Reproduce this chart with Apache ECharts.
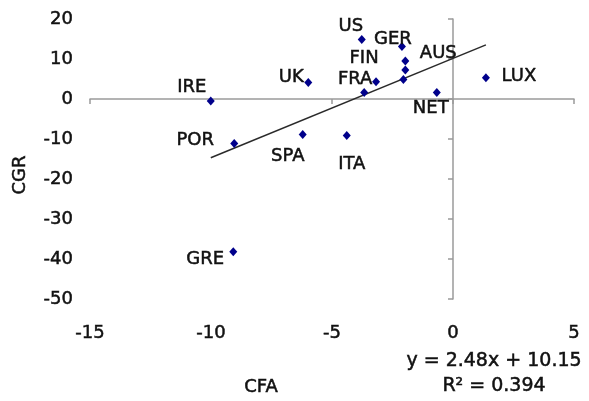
<!DOCTYPE html>
<html>
<head>
<meta charset="utf-8">
<script src="https://cdn.jsdelivr.net/npm/echarts@6/dist/echarts.min.js"></script>
<style>
html,body{margin:0;padding:0;background:#fff;}
#chart{width:589px;height:401px;}
</style>
</head>
<body>
<div id="chart"></div>
<script>
// ---- data ----
const countries = ['US','GER','AUS','','','FIN','FRA','UK','NET','LUX','SPA','ITA','IRE','POR','GRE'];
const cfa = [-3.77,-2.11,-1.97,-1.97,-2.05,-3.18,-3.67,-5.98,-0.67,1.36,-6.21,-4.39,-10.01,-9.04,-9.08];
const cgr = [14.9,13.1,9.5,7.25,4.9,4.3,1.6,4.1,1.6,5.3,-8.9,-9.1,-0.5,-11.1,-38.2];
const xTicks = [-15,-10,-5,0,5];
const yTicks = [-50,-40,-30,-20,-10,0,10,20];
const trendSlope = 2.48;
const trendIntercept = 10.15;
const rSquared = 0.394;
const xTitle = 'CFA';
const yTitle = 'CGR';

// ---- styling (label offsets relative to each point) ----
const labelOffsets = {
  US:[-11,-13], GER:[-9,-7], AUS:[33,-8], FIN:[-12,-23], FRA:[-9,-13],
  UK:[-17,-5], NET:[-6,16], LUX:[33,-1], SPA:[-15,22], ITA:[5,29],
  IRE:[-19,-14], POR:[-39,-3], GRE:[-28,8]
};
const FONT = 'DejaVu Sans';
const TXT = '#111111';
const thick = {textBorderColor:TXT, textBorderWidth:0.5};

const points = cfa.map((x,i)=>{
  const name = countries[i];
  const off = labelOffsets[name] || [0,0];
  return {
    value:[x, cgr[i]],
    label:Object.assign({show: !!name, formatter: name, position:'inside', offset: off,
           color: TXT, fontFamily: FONT, fontSize: 18, align:'center', verticalAlign:'middle', opacity:1}, thick)
  };
});
const xMinD = Math.min(...cfa), xMaxD = Math.max(...cfa);
const trend = [[xMinD, trendSlope*xMinD+trendIntercept],[xMaxD, trendSlope*xMaxD+trendIntercept]];

const chart = echarts.init(document.getElementById('chart'), null, {renderer:'canvas'});
const axisMin = {x: xTicks[0], y: yTicks[0]};
const axisMax = {x: xTicks[xTicks.length-1], y: yTicks[yTicks.length-1]};
chart.setOption({
  animation:false,
  backgroundColor:'#fff',
  grid:{left:90, right:15, top:19, bottom:102},
  xAxis:[
    {type:'value', min:axisMin.x, max:axisMax.x, interval:5, position:'bottom',
     axisLine:{show:false, onZero:false}, axisTick:{show:false}, splitLine:{show:false},
     axisLabel:Object.assign({color:TXT, fontFamily:FONT, fontSize:18, margin:25}, thick)},
    {type:'value', min:axisMin.x, max:axisMax.x, interval:5, position:'bottom',
     axisLine:{show:true, onZero:true, onZeroAxisIndex:0, lineStyle:{color:'#9a9a9a', width:1.5}},
     axisTick:{show:true, length:5, lineStyle:{color:'#9a9a9a', width:1.5}},
     axisLabel:{show:false}, splitLine:{show:false}}
  ],
  yAxis:[
    {type:'value', min:axisMin.y, max:axisMax.y, interval:10, position:'left',
     axisLine:{show:false, onZero:false}, axisTick:{show:false}, splitLine:{show:false},
     axisLabel:Object.assign({color:TXT, fontFamily:FONT, fontSize:18, margin:17}, thick)},
    {type:'value', min:axisMin.y, max:axisMax.y, interval:10, position:'left',
     axisLine:{show:true, onZero:true, onZeroAxisIndex:0, lineStyle:{color:'#9a9a9a', width:1.5}},
     axisTick:{show:true, length:5, lineStyle:{color:'#9a9a9a', width:1.5}},
     axisLabel:{show:false}, splitLine:{show:false}}
  ],
  series:[
    {type:'line', data:trend, xAxisIndex:0, yAxisIndex:0, symbol:'none',
     lineStyle:{color:'#2a2a2a', width:1.5}, silent:true, z:2},
    {type:'scatter', data:points, xAxisIndex:0, yAxisIndex:0, symbol:'diamond', symbolSize:[8,9],
     itemStyle:{color:'#00008b', opacity:1}, z:3}
  ],
  graphic:[
    {type:'text', left:262-18, top:388-10, style:{text:xTitle, fill:TXT, stroke:TXT, lineWidth:0.5, font:'18px "DejaVu Sans"'}},
    {type:'text', x:20, y:175, rotation:Math.PI/2, style:{text:yTitle, fill:TXT, stroke:TXT, lineWidth:0.5, font:'18px "DejaVu Sans"', align:'center', verticalAlign:'middle'}},
    {type:'text', x:494, y:361, style:{text:'y = ' + trendSlope.toFixed(2) + 'x + ' + trendIntercept.toFixed(2), fill:TXT, stroke:TXT, lineWidth:0.5, font:'19px "DejaVu Sans"', align:'center', verticalAlign:'middle'}},
    {type:'text', x:494, y:386, style:{text:'R² = ' + rSquared.toFixed(3), fill:TXT, stroke:TXT, lineWidth:0.5, font:'19px "DejaVu Sans"', align:'center', verticalAlign:'middle'}}
  ]
});
</script>
</body>
</html>
